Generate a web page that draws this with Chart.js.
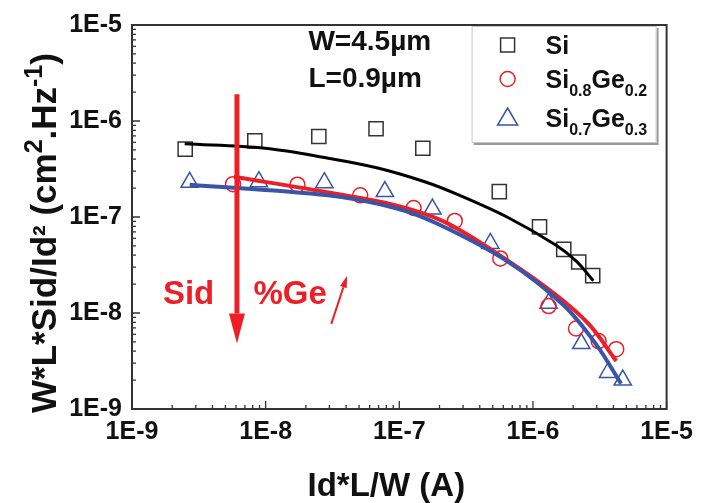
<!DOCTYPE html>
<html>
<head>
<meta charset="utf-8">
<script src="https://cdn.jsdelivr.net/npm/chart.js@4"></script>
<style>
  html, body { margin: 0; padding: 0; background: #fff; }
  #chart { display: block; }
</style>
</head>
<body>
<canvas id="chart" width="701" height="503"></canvas>
<script>
const FONT = "'Liberation Sans', Arial, sans-serif";

// decade tick labels on both axes
const xTicks = [1e-9, 1e-8, 1e-7, 1e-6, 1e-5];
const yTicks = [1e-9, 1e-8, 1e-7, 1e-6, 1e-5];

// measured points
const siX   = [2.5e-9, 8.3e-9, 2.5e-8, 6.7e-8, 1.5e-7, 5.6e-7, 1.12e-6, 1.7e-6, 2.2e-6, 2.8e-6];
const siY   = [5.1e-7, 6.2e-7, 6.9e-7, 8.3e-7, 5.2e-7, 1.84e-7, 7.9e-8, 4.6e-8, 3.4e-8, 2.45e-8];
const ge20X = [5.7e-9, 1.73e-8, 5.1e-8, 1.28e-7, 2.6e-7, 5.7e-7, 1.31e-6, 2.1e-6, 3.1e-6, 4.2e-6];
const ge20Y = [2.2e-7, 2.17e-7, 1.68e-7, 1.24e-7, 9.1e-8, 3.7e-8, 1.18e-8, 6.9e-9, 5.1e-9, 4.2e-9];
const ge30X = [2.7e-9, 8.9e-9, 2.75e-8, 7.8e-8, 1.77e-7, 4.8e-7, 1.31e-6, 2.3e-6, 3.65e-6, 4.7e-6];
const ge30Y = [2.3e-7, 2.33e-7, 2.28e-7, 1.84e-7, 1.21e-7, 5.3e-8, 1.26e-8, 4.8e-9, 2.4e-9, 2.0e-9];

// fitted curves
const fitSiX   = [2.48e-9, 9.9e-9, 2.94e-8, 6.9e-8, 1.55e-7, 2.72e-7, 6.4e-7, 1.5e-6, 2.11e-6, 2.83e-6];
const fitSiY   = [5.8e-7, 5.2e-7, 4.1e-7, 3.24e-7, 2.33e-7, 1.72e-7, 1.0e-7, 5.06e-8, 3.47e-8, 2.17e-8];
const fitGe20X = [5.8e-9, 2.94e-8, 9.3e-8, 2.18e-7, 6.4e-7, 1.5e-6, 2.64e-6, 4.2e-6];
const fitGe20Y = [2.62e-7, 1.80e-7, 1.33e-7, 8.9e-8, 3.56e-8, 1.53e-8, 7.55e-9, 3.16e-9];
const fitGe30X = [2.7e-9, 2.94e-8, 9.3e-8, 1.93e-7, 6.4e-7, 1.69e-6, 2.97e-6, 4.56e-6];
const fitGe30Y = [2.17e-7, 1.68e-7, 1.24e-7, 8.5e-8, 3.47e-8, 1.21e-8, 4.71e-9, 1.84e-9];

const RED = '#ec1f27', BLUE = '#3a55a8', DARK = '#333';

const pts = (xs, ys) => xs.map((x, i) => ({ x: x, y: ys[i] }));

function fitLine(xs, ys, color, width) {
    return {
        data: pts(xs, ys), showLine: true, pointRadius: 0,
        borderColor: color, borderWidth: width, tension: 0.35
    };
}
function marks(xs, ys, style, color, r) {
    return {
        data: pts(xs, ys), showLine: false, pointStyle: style, pointRadius: r,
        pointBorderColor: color, pointBackgroundColor: 'rgba(0,0,0,0)', pointBorderWidth: 1.5
    };
}

function drawRich(ctx, segs, x, y) {
    let total = 0;
    segs.forEach(s => { ctx.font = 'bold ' + s.size + 'px ' + FONT; s.w = ctx.measureText(s.t).width; total += s.w; });
    let cx = x - total / 2;
    ctx.textAlign = 'left'; ctx.textBaseline = 'alphabetic';
    segs.forEach(s => { ctx.font = 'bold ' + s.size + 'px ' + FONT; ctx.fillText(s.t, cx, y + (s.dy || 0)); cx += s.w; });
}
function drawRichLeft(ctx, segs, x, y) {
    let cx = x;
    ctx.textAlign = 'left'; ctx.textBaseline = 'alphabetic';
    segs.forEach(s => { ctx.font = 'bold ' + s.size + 'px ' + FONT; ctx.fillText(s.t, cx, y + (s.dy || 0)); cx += ctx.measureText(s.t).width; });
}

function arrow(ctx, x1, y1, x2, y2, lw, head, hw, color) {
    const a = Math.atan2(y2 - y1, x2 - x1);
    const bx = x2 - head * Math.cos(a), by = y2 - head * Math.sin(a);
    ctx.strokeStyle = color; ctx.fillStyle = color; ctx.lineWidth = lw;
    ctx.beginPath(); ctx.moveTo(x1, y1); ctx.lineTo(bx, by); ctx.stroke();
    ctx.beginPath();
    ctx.moveTo(x2, y2);
    ctx.lineTo(bx + hw * Math.sin(a), by - hw * Math.cos(a));
    ctx.lineTo(bx - hw * Math.sin(a), by + hw * Math.cos(a));
    ctx.closePath(); ctx.fill();
}

const decor = {
    id: 'decor',
    afterDraw(chart) {
        const ctx = chart.ctx, a = chart.chartArea;
        const xs = chart.scales.x, ys = chart.scales.y;
        const px = v => xs.getPixelForValue(v), py = v => ys.getPixelForValue(v);
        ctx.save();

        // frame
        ctx.strokeStyle = DARK; ctx.lineWidth = 2;
        ctx.strokeRect(a.left, a.top, a.right - a.left, a.bottom - a.top);

        // inward major/minor ticks
        ctx.lineWidth = 1.3;
        ctx.beginPath();
        for (let d = -9; d <= -5; d++) {
            for (let m = 1; m <= 9; m++) {
                const v = m * Math.pow(10, d);
                if (v > 1.0001e-5) break;
                const len = m === 1 ? 8 : 4;
                const X = px(v), Y = py(v);
                ctx.moveTo(X, a.bottom); ctx.lineTo(X, a.bottom - len);
                ctx.moveTo(a.left, Y); ctx.lineTo(a.left + len, Y);
            }
        }
        ctx.stroke();

        // annotations
        ctx.fillStyle = '#111';
        ctx.font = 'bold 28px ' + FONT; ctx.textAlign = 'left'; ctx.textBaseline = 'middle';
        ctx.fillText('W=4.5\u00b5m', px(2.09e-8), py(6.55e-6));
        ctx.fillText('L=0.9\u00b5m', px(2.09e-8), py(2.75e-6));

        ctx.fillStyle = RED;
        ctx.font = 'bold 33px ' + FONT;
        ctx.textAlign = 'center';
        ctx.fillText('Sid', px(2.65e-9), py(1.56e-8));
        ctx.textAlign = 'left';
        ctx.fillText('%Ge', px(8.1e-9), py(1.56e-8));

        arrow(ctx, px(6.1e-9), py(1.9e-6), px(6.1e-9), py(4.8e-9), 5, 30, 8, RED);
        arrow(ctx, px(3.1e-8), py(7.7e-9), px(4.07e-8), py(2.44e-8), 2, 12, 3.5, RED);

        // x axis title (sits a little left of the plot centre)
        ctx.fillStyle = '#111';
        drawRich(ctx, [{ t: 'Id*L/W (A)', size: 33 }], px(8e-8), 496);

        // y axis title with superscripts
        ctx.save();
        ctx.translate(56, (a.top + a.bottom) / 2 + 16);
        ctx.rotate(-Math.PI / 2);
        drawRich(ctx, [
            { t: 'W*L*Sid/Id', size: 35 }, { t: '\u00b2', size: 32 },
            { t: ' (cm', size: 35 }, { t: '2', size: 25, dy: -14 },
            { t: '.Hz', size: 35 }, { t: '-1', size: 25, dy: -14 },
            { t: ')', size: 35 }
        ], 0, 0);
        ctx.restore();

        // legend box
        const lx = a.right - 195, ly = a.top + 1, lw = 185, lh = 117;
        ctx.fillStyle = '#9a9a9a'; ctx.fillRect(lx + 2, ly + 2, lw, lh);
        ctx.fillStyle = '#fff'; ctx.fillRect(lx, ly, lw, lh);
        ctx.strokeStyle = '#c8c8c8'; ctx.lineWidth = 1; ctx.strokeRect(lx + 0.5, ly + 0.5, lw - 1, lh - 1);

        const mx = lx + 36, tx = lx + 74;
        const rows = [ly + 19, ly + 53, ly + 92];
        ctx.lineWidth = 1.5;
        ctx.strokeStyle = DARK; ctx.strokeRect(mx - 7, rows[0] - 7, 14, 14);
        ctx.strokeStyle = RED; ctx.beginPath(); ctx.arc(mx, rows[1], 7.5, 0, Math.PI * 2); ctx.stroke();
        ctx.strokeStyle = BLUE; ctx.beginPath();
        ctx.moveTo(mx, rows[2] - 10); ctx.lineTo(mx + 10, rows[2] + 7); ctx.lineTo(mx - 10, rows[2] + 7); ctx.closePath(); ctx.stroke();

        ctx.fillStyle = '#111';
        drawRichLeft(ctx, [{ t: 'Si', size: 25 }], tx, rows[0] + 9);
        drawRichLeft(ctx, [{ t: 'Si', size: 25 }, { t: '0.8', size: 16, dy: 8 }, { t: 'Ge', size: 25 }, { t: '0.2', size: 16, dy: 8 }], tx, rows[1] + 9);
        drawRichLeft(ctx, [{ t: 'Si', size: 25 }, { t: '0.7', size: 16, dy: 8 }, { t: 'Ge', size: 25 }, { t: '0.3', size: 16, dy: 8 }], tx, rows[2] + 9);

        ctx.restore();
    }
};

const fmt = v => '1E' + Math.round(Math.log10(v));

new Chart(document.getElementById('chart'), {
    type: 'scatter',
    data: {
        datasets: [
            fitLine(fitGe30X, fitGe30Y, BLUE, 4),
            fitLine(fitGe20X, fitGe20Y, RED, 4),
            fitLine(fitSiX, fitSiY, '#000', 3),
            marks(siX, siY, 'rect', DARK, 10),
            marks(ge20X, ge20Y, 'circle', RED, 7.5),
            marks(ge30X, ge30Y, 'triangle', BLUE, 10)
        ]
    },
    options: {
        responsive: false, animation: false, devicePixelRatio: 1,
        layout: { padding: { top: 17, right: 30, left: 0, bottom: 0 } },
        plugins: { legend: { display: false }, tooltip: { enabled: false } },
        scales: {
            x: {
                type: 'logarithmic', min: 1e-9, max: 1e-5,
                afterBuildTicks: s => { s.ticks = xTicks.map(v => ({ value: v })); },
                afterFit: s => { s.height = 94; },
                grid: { display: false, drawTicks: false },
                border: { display: false },
                ticks: { callback: fmt, autoSkip: false, maxRotation: 0, padding: 8, color: '#111',
                         font: { family: FONT, size: 25, weight: 'bold' } }
            },
            y: {
                type: 'logarithmic', min: 1e-9, max: 1e-5,
                afterBuildTicks: s => { s.ticks = yTicks.map(v => ({ value: v })); },
                afterFit: s => { s.width = 132; },
                grid: { display: false, drawTicks: false },
                border: { display: false },
                ticks: { callback: fmt, autoSkip: false, padding: 10, color: '#111',
                         font: { family: FONT, size: 25, weight: 'bold' } }
            }
        }
    },
    plugins: [decor]
});
</script>
</body>
</html>
